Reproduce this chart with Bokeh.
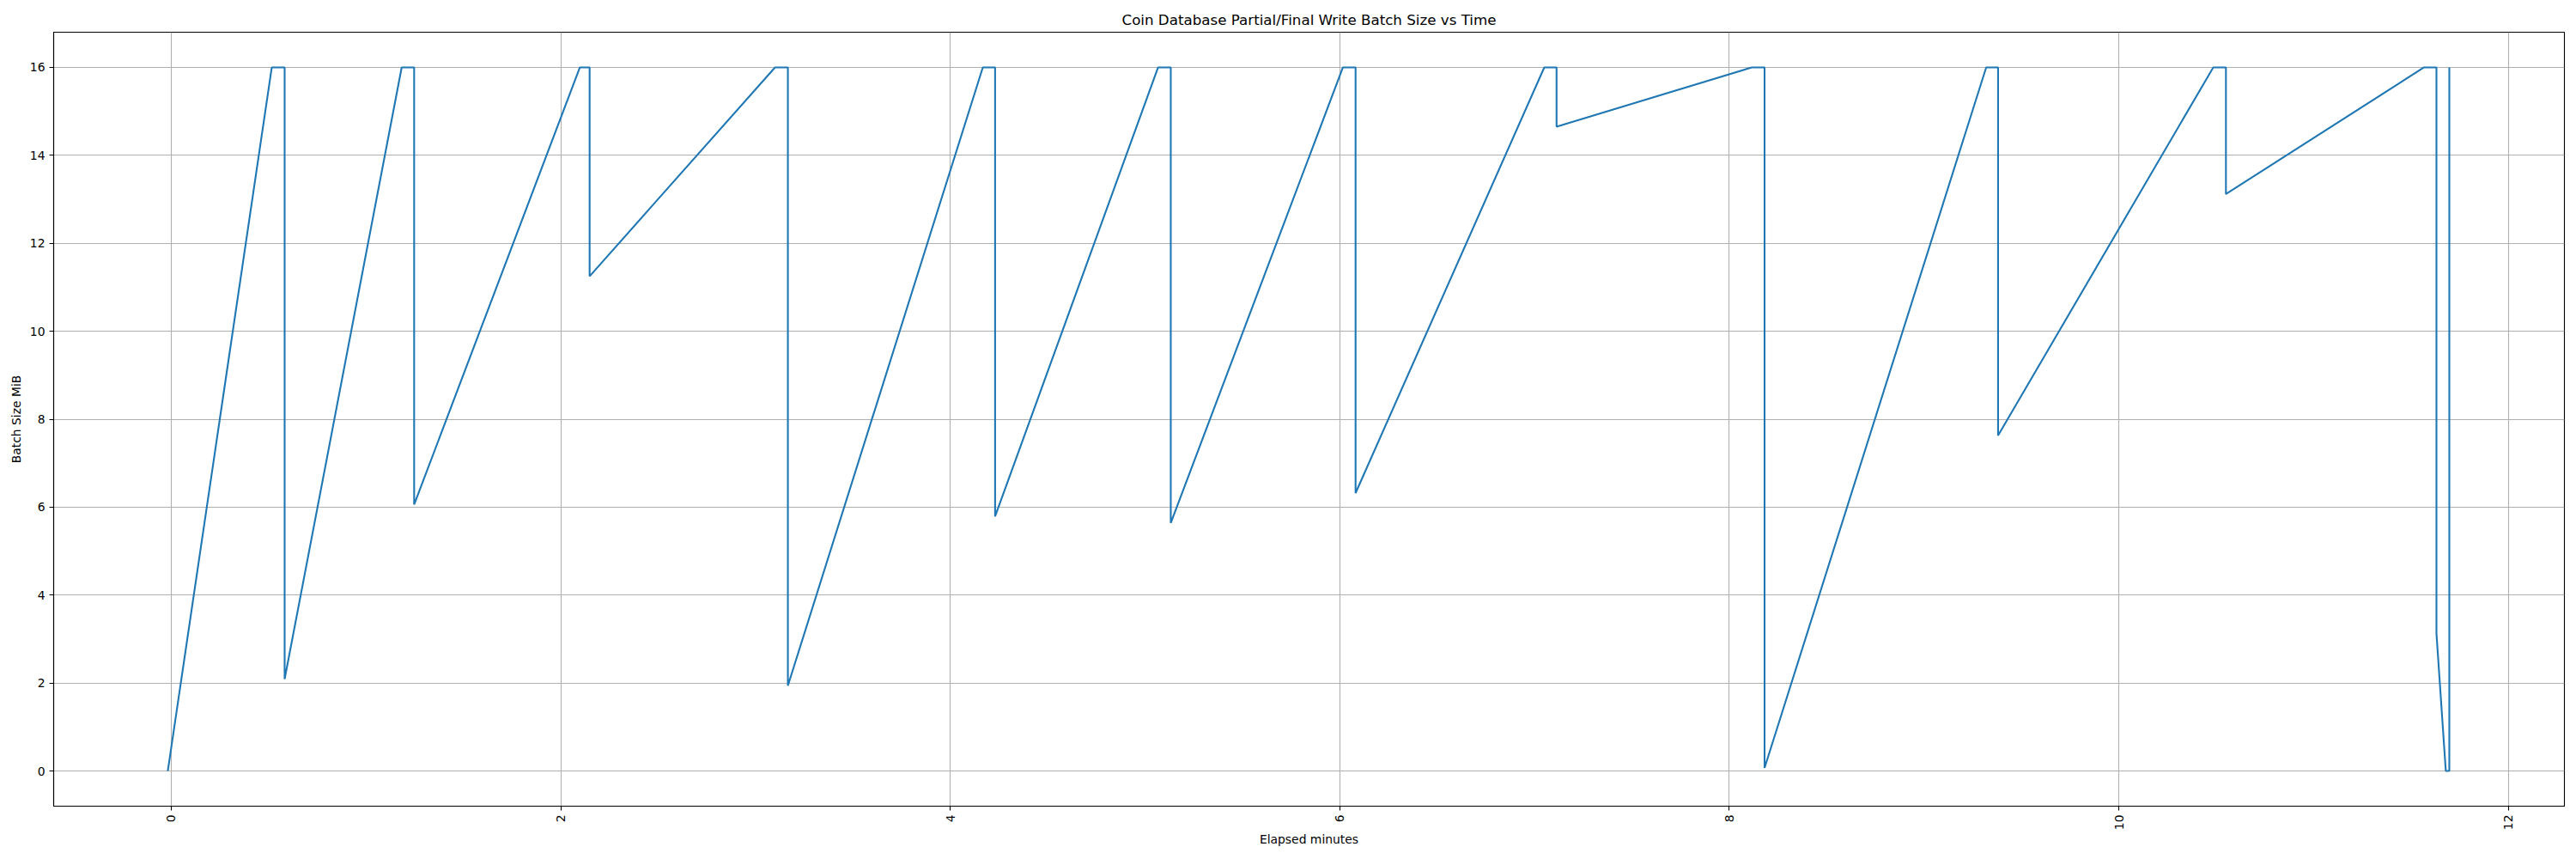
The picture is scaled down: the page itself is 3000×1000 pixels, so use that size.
import math
from bokeh.plotting import figure
from bokeh.models import Range1d, FixedTicker
from bokeh.embed import file_html
from bokeh.resources import INLINE

# Elapsed minutes and batch size (MiB)
minutes = [-0.018, 0.516, 0.582, 0.582, 1.183, 1.247, 1.247, 2.098, 2.148, 2.148,
           3.100, 3.166, 3.166, 4.167, 4.230, 4.230, 5.067, 5.132, 5.132, 6.016,
           6.081, 6.081, 7.050, 7.113, 7.113, 8.116, 8.181, 8.181, 9.319, 9.380,
           9.380, 10.485, 10.550, 10.550, 11.567, 11.631, 11.631, 11.679, 11.697, 11.697]
batch_mib = [0, 16, 16, 2.09, 16, 16, 6.06, 16, 16, 11.25,
             16, 16, 1.94, 16, 16, 5.79, 16, 16, 5.64, 16,
             16, 6.32, 16, 16, 14.65, 16, 16, 0.07, 16, 16,
             7.63, 16, 16, 13.12, 16, 16, 3.13, 0, 0, 16]

x_ticks = [0, 2, 4, 6, 8, 10, 12]
y_ticks = [0, 2, 4, 6, 8, 10, 12, 14, 16]

title_text = "Coin Database Partial/Final Write Batch Size vs Time"
x_label = "Elapsed minutes"
y_label = "Batch Size MiB"

FONT = "DejaVu Sans"

p = figure(width=3000, height=1000, output_backend="svg", toolbar_location=None,
           x_range=Range1d(-0.604, 12.288), y_range=Range1d(-0.8, 16.8),
           min_border_left=62, min_border_right=14, min_border_top=37,
           min_border_bottom=62, title=title_text)

p.line(minutes, batch_mib, line_color="#1f77b4", line_width=2.1)

p.title.align = "center"
p.title.text_font = FONT
p.title.text_font_size = "16.7px"
p.title.text_font_style = "normal"
p.title.text_color = "black"
p.title.standoff = 9

for ax in (p.xaxis[0], p.yaxis[0]):
    ax.axis_line_color = "black"
    ax.axis_line_width = 1.1
    ax.major_tick_line_color = "black"
    ax.major_tick_line_width = 1.1
    ax.major_tick_out = 5
    ax.major_tick_in = 0
    ax.minor_tick_line_color = None
    ax.major_label_text_font = FONT
    ax.major_label_text_font_size = "13.9px"
    ax.major_label_text_color = "black"
    ax.major_label_standoff = 5
    ax.axis_label_text_font = FONT
    ax.axis_label_text_font_size = "13.9px"
    ax.axis_label_text_font_style = "normal"
    ax.axis_label_text_color = "black"

p.xaxis.ticker = FixedTicker(ticks=x_ticks)
p.yaxis.ticker = FixedTicker(ticks=y_ticks)
p.xaxis.major_label_orientation = math.pi / 2
p.xaxis.axis_label = x_label
p.yaxis.axis_label = y_label
p.xaxis.axis_label_standoff = 0
p.yaxis.axis_label_standoff = 5

p.xgrid.grid_line_color = "#b0b0b0"
p.ygrid.grid_line_color = "#b0b0b0"
p.xgrid.grid_line_width = 1.1
p.ygrid.grid_line_width = 1.1

p.outline_line_color = "black"
p.outline_line_width = 1.1
p.outline_line_alpha = 1.0
p.background_fill_color = "white"
p.border_fill_color = "white"

open("out.html", "w").write(file_html(p, INLINE))
